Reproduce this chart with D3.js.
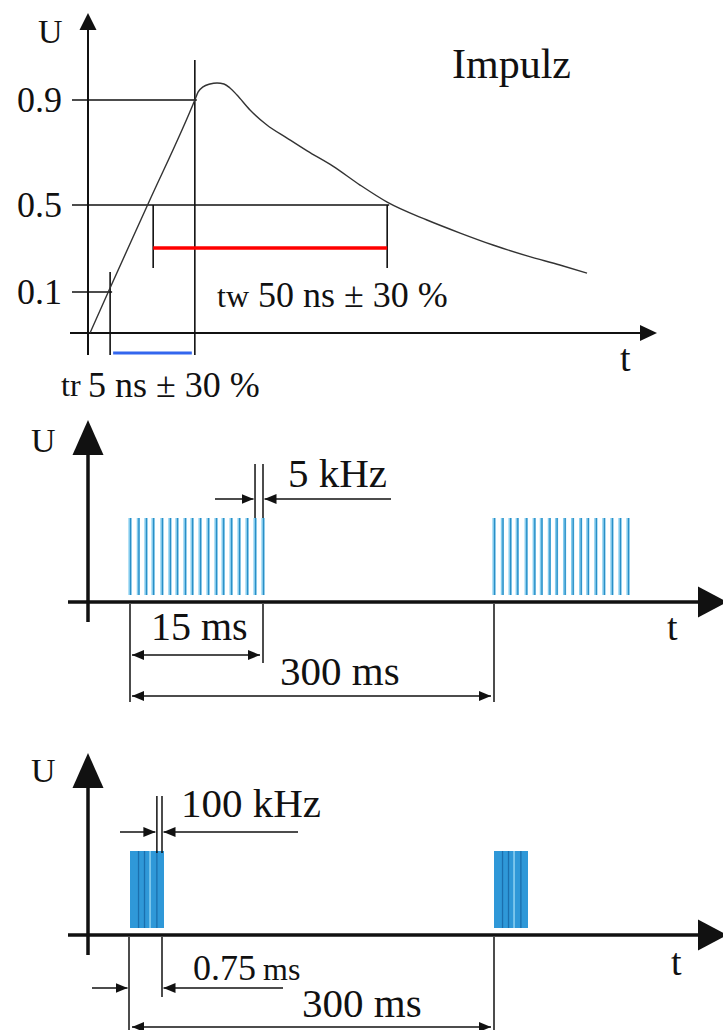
<!DOCTYPE html>
<html>
<head>
<meta charset="utf-8">
<script src="https://cdn.jsdelivr.net/npm/d3@7"></script>
<style>
    body { margin: 0; background: #fff; }
    text { font-family: "Liberation Serif", "Times New Roman", serif; fill: #111; }
</style>
</head>
<body>
<div class="Chart"></div>
<script>
// --- panel 1: single pulse (t in ns, U relative) ---
const levels = [0.1, 0.5, 0.9];
const levelLabels = ["0.1", "0.5", "0.9"];
const pulseT = [0, 3.9, 12.3, 22.4, 23.08, 24.15, 25.64, 27.14, 28.63, 29.91, 31.41, 34.19, 37.8, 42.1, 46.4, 51.9, 57.7, 63.5, 72.0, 79.1, 86.1, 93.4, 100.4, 106.2];
const pulseU = [0, 0.1, 0.5, 0.9, 0.930, 0.950, 0.961, 0.965, 0.961, 0.946, 0.919, 0.862, 0.805, 0.755, 0.706, 0.648, 0.576, 0.511, 0.431, 0.371, 0.316, 0.266, 0.224, 0.187];
const riseMarks = [4.3, 22.4];   // 0.1 / 0.9 crossings -> tr
const widthMarks = [13.5, 63.5]; // 0.5 crossings -> tw

// --- panel 2: 5 kHz bursts (ms) ---
const slowBursts = [0, 300];
const slowBurstLen = 15;
const slowPulses = [0, 0.94, 1.8, 2.6, 3.6, 4.5, 5.3, 6.2, 7.0, 7.9, 8.8, 9.7, 10.5, 11.4, 12.3, 13.2, 14.1, 15.0];

// --- panel 3: 100 kHz bursts (ms) ---
const fastBursts = [0, 300];
const fastBurstLen = 0.75;
const fastStripes = [0.2, 0.34, 0.63];
const fastLight = [0.47];

const svg = d3.select(".Chart").append("svg")
    .attr("width", 723).attr("height", 1030);

// small arrow heads for dimension lines
svg.append("defs").append("marker")
    .attr("id", "arr")
    .attr("viewBox", "0 0 12 10")
    .attr("refX", 12).attr("refY", 5)
    .attr("markerWidth", 12).attr("markerHeight", 10)
    .attr("markerUnits", "userSpaceOnUse")
    .attr("orient", "auto-start-reverse")
    .append("path").attr("d", "M0,0L12,5L0,10z").attr("fill", "#111");

function arrowHead(g, x, y, dir, len, half) {
    let pts = dir === "up"
        ? [[x, y], [x - half, y + len], [x + half, y + len]]
        : [[x, y], [x - len, y - half], [x - len, y + half]];
    g.append("path").attr("d", "M" + pts.join("L") + "Z").attr("fill", "#111");
}

function line(g, xa, ya, xb, yb, w, col) {
    return g.append("line")
        .attr("x1", xa).attr("y1", ya).attr("x2", xb).attr("y2", yb)
        .attr("stroke", col || "#111").attr("stroke-width", w || 1.5);
}

function label(g, x, y, txt, size, anchor) {
    return g.append("text").attr("x", x).attr("y", y)
        .attr("font-size", size).attr("text-anchor", anchor || "start").text(txt);
}

// ================= panel 1 =================
let g1 = svg.append("g");
let x1 = d3.scaleLinear().domain([0, 50]).range([90, 324]);
let y1 = d3.scaleLinear().domain([0, 0.1, 0.5, 0.9]).range([333, 292, 205, 100]);

line(g1, 70, y1(0), 642, y1(0), 2);
arrowHead(g1, 657, y1(0), "right", 17, 8);
line(g1, 88, 355, 88, 28, 2);
arrowHead(g1, 88, 13, "up", 17, 8.5);

// level lines
let levelEnds = [riseMarks[0], widthMarks[1], riseMarks[1]];
levels.forEach((l, i) => {
    line(g1, 72, y1(l), x1(levelEnds[i]) + 2, y1(l), 1.6);
    label(g1, 62, y1(l) + 12, levelLabels[i], 36, "end");
});

// marker verticals
line(g1, x1(riseMarks[0]), y1(0.1) - 20, x1(riseMarks[0]), 355, 1.6);
line(g1, x1(riseMarks[1]), 60, x1(riseMarks[1]), 355, 1.6);
widthMarks.forEach(t => line(g1, x1(t), y1(0.5), x1(t), 268, 1.6));

// tw / tr bars
line(g1, x1(widthMarks[0]), 248, x1(widthMarks[1]), 248, 3.5, "#ff0000");
line(g1, x1(riseMarks[0]) + 3, 353, x1(riseMarks[1]) - 3, 353, 3, "#3366ee");

let pulse = pulseT.map((t, i) => ({t: t, u: pulseU[i]}));
g1.append("path").datum(pulse)
    .attr("d", d3.line().x(d => x1(d.t)).y(d => y1(d.u)).curve(d3.curveMonotoneX))
    .attr("fill", "none").attr("stroke", "#333").attr("stroke-width", 1.4);

label(g1, 38, 43, "U", 34);
label(g1, 452, 78, "Impulz", 42);
label(g1, 620, 371, "t", 38);

let tw = g1.append("text").attr("x", 217).attr("y", 307);
tw.append("tspan").attr("font-size", 32).text("tw");
tw.append("tspan").attr("font-size", 36).attr("dx", 9).text("50 ns ± 30 %");

let tr = g1.append("text").attr("x", 61).attr("y", 396);
tr.append("tspan").attr("font-size", 32).text("tr");
tr.append("tspan").attr("font-size", 36).attr("x", 88).attr("y", 397).text("5 ns ± 30 %");

// ================= panel 2 =================
let g2 = svg.append("g");
let x2 = d3.scaleLinear()
    .domain([0, slowBurstLen, 300, 300 + slowBurstLen])
    .range([130, 263, 494, 628]);
let y2 = d3.scaleLinear().domain([0, 1]).range([595, 518]);
let base2 = 602;

slowBursts.forEach(s => {
    let b = g2.append("g");
    b.selectAll("rect").data(slowPulses).enter().append("rect")
        .attr("x", d => x2(s + d) - 1.6).attr("y", y2(1))
        .attr("width", 3.2).attr("height", y2(0) - y2(1))
        .attr("fill", "#86cdef");
    b.selectAll("line").data(slowPulses).enter().append("line")
        .attr("x1", d => x2(s + d) + 0.6).attr("x2", d => x2(s + d) + 0.6)
        .attr("y1", y2(1)).attr("y2", y2(0))
        .attr("stroke", "#2a8fc6").attr("stroke-width", 1.3);
});

line(g2, 68, base2, 700, base2, 3.5);
arrowHead(g2, 727, base2, "right", 29, 15.5);
line(g2, 88, 622, 88, 450, 3.5);
arrowHead(g2, 88, 420, "up", 35, 15.5);

// 5 kHz period marker
let p2 = slowPulses.slice(-2);
p2.forEach(d => line(g2, x2(d), 464, x2(d), y2(1), 1.5));
line(g2, 215, 499, x2(p2[0]) - 1.5, 499, 1.5).attr("marker-end", "url(#arr)");
line(g2, 391, 499, x2(p2[1]) + 1.5, 499, 1.5).attr("marker-end", "url(#arr)");
label(g2, 288, 487, "5 kHz", 41);

// dimensions
line(g2, x2(0), base2 + 2, x2(0), 702, 1.5);
line(g2, x2(slowBurstLen), base2 + 2, x2(slowBurstLen), 663, 1.5);
line(g2, x2(300), base2 + 2, x2(300), 702, 1.5);
line(g2, x2(0) + 2, 655, x2(slowBurstLen) - 3, 655, 1.5)
    .attr("marker-start", "url(#arr)").attr("marker-end", "url(#arr)");
line(g2, x2(0) + 2, 696, x2(300) - 3, 696, 1.5)
    .attr("marker-start", "url(#arr)").attr("marker-end", "url(#arr)");
label(g2, 151, 640, "15 ms", 40);
label(g2, 280, 685, "300 ms", 41);
label(g2, 667, 640, "t", 38);
label(g2, 31, 452, "U", 34);

// ================= panel 3 =================
let g3 = svg.append("g");
let x3 = d3.scaleLinear()
    .domain([0, fastBurstLen, 300, 300 + fastBurstLen])
    .range([130, 162, 494, 526]);
let y3 = d3.scaleLinear().domain([0, 1]).range([928, 851]);
let base3 = 935;

fastBursts.forEach(s => {
    let b = g3.append("g");
    b.append("rect")
        .attr("x", x3(s)).attr("y", y3(1))
        .attr("width", x3(s + fastBurstLen) - x3(s) + 2).attr("height", y3(0) - y3(1))
        .attr("fill", "#2f98d8");
    b.selectAll("line.dark").data(fastStripes).enter().append("line").attr("class", "dark")
        .attr("x1", d => x3(s + d)).attr("x2", d => x3(s + d))
        .attr("y1", y3(1)).attr("y2", y3(0))
        .attr("stroke", "#1b6fae").attr("stroke-width", 1.3);
    b.selectAll("line.light").data(fastLight).enter().append("line").attr("class", "light")
        .attr("x1", d => x3(s + d)).attr("x2", d => x3(s + d))
        .attr("y1", y3(1)).attr("y2", y3(0))
        .attr("stroke", "#8fd2f2").attr("stroke-width", 1.5);
});

line(g3, 68, base3, 700, base3, 3.5);
arrowHead(g3, 727, base3, "right", 29, 15.5);
line(g3, 88, 955, 88, 783, 3.5);
arrowHead(g3, 88, 753, "up", 35, 15.5);

// 100 kHz period marker
let p3 = [fastStripes[fastStripes.length - 1], fastBurstLen];
p3.forEach(d => line(g3, x3(d), 796, x3(d), y3(1) + 2, 1.5));
line(g3, 120, 832, x3(p3[0]) - 1.5, 832, 1.5).attr("marker-end", "url(#arr)");
line(g3, 298, 832, x3(p3[1]) + 1.5, 832, 1.5).attr("marker-end", "url(#arr)");
label(g3, 181, 817, "100 kHz", 41);

// dimensions
line(g3, x3(0) - 1, base3 + 2, x3(0) - 1, 1030, 1.5);
line(g3, x3(fastBurstLen), base3 + 2, x3(fastBurstLen), 997, 1.5);
line(g3, x3(300), base3 + 2, x3(300), 1030, 1.5);
line(g3, 92, 988, x3(0) - 2.5, 988, 1.5).attr("marker-end", "url(#arr)");
line(g3, 283, 988, x3(fastBurstLen) + 1.5, 988, 1.5).attr("marker-end", "url(#arr)");
line(g3, x3(0) + 2, 1027, x3(300) - 3, 1027, 1.5)
    .attr("marker-start", "url(#arr)").attr("marker-end", "url(#arr)");

let dur = g3.append("text").attr("x", 193).attr("y", 980);
dur.append("tspan").attr("font-size", 36).text("0.75");
dur.append("tspan").attr("font-size", 32).attr("dx", 7).text("ms");
label(g3, 302, 1017, "300 ms", 41);
label(g3, 671, 975, "t", 38);
label(g3, 31, 782, "U", 34);
</script>
</body>
</html>
